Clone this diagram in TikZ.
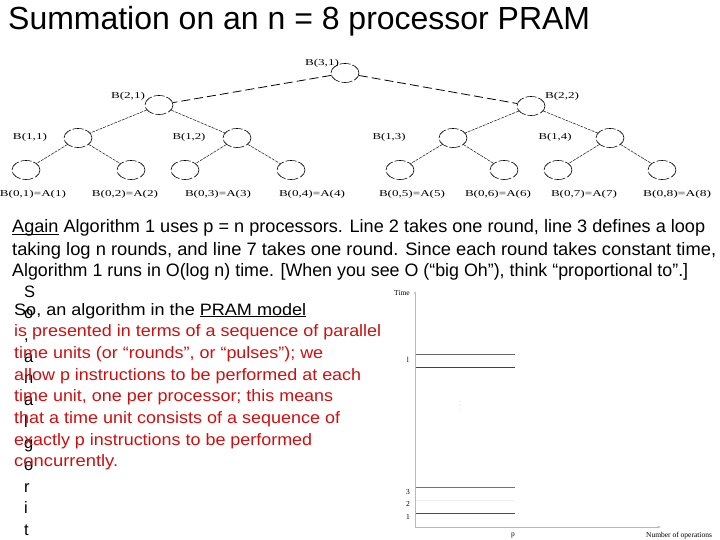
\documentclass[tikz,border=0pt]{standalone}
\usepackage{graphicx}
\usepackage{fontspec}
\setmainfont{Liberation Serif}
\newfontfamily\arial{Liberation Sans}
\usetikzlibrary{shapes.geometric,arrows.meta}
\definecolor{txtred}{RGB}{204,16,16}
\newcommand{\fitw}[2]{\resizebox{#1}{\height}{#2}}
\newsavebox{\myulbox}
\newcommand{\myul}[1]{\sbox{\myulbox}{#1}\rlap{\rule[-1.7pt]{\wd\myulbox}{0.9pt}}\usebox{\myulbox}}
\begin{document}
\begin{tikzpicture}[x=1pt,y=-1pt,
  bnode/.style={ellipse, draw, minimum width=28pt, minimum height=19pt, inner sep=0pt, line width=0.6pt, dash pattern=on 11pt off 2pt},
  topedge/.style={line width=0.8pt, dash pattern=on 9pt off 4pt},
  lowedge/.style={line width=0.45pt, dash pattern=on 3pt off 1pt},
  lbl/.style={inner sep=0pt, font=\fontsize{9}{10}\selectfont},
  para/.style={anchor=base west, inner sep=0pt, font=\arial\fontsize{18}{20}\selectfont},
  lowtxt/.style={anchor=base west, inner sep=0pt, font=\arial\fontsize{16.5}{18}\selectfont},
  vlet/.style={anchor=base west, inner sep=0pt, font=\arial\fontsize{16.5}{18}\selectfont},
  plbl/.style={inner sep=0pt, font=\fontsize{7.5}{8}\selectfont},
  hline/.style={line width=0.7pt}
]
\useasboundingbox (0,0) rectangle (720,540);

% title
\node[anchor=base west, inner sep=0pt, font=\arial\fontsize{32}{38}\selectfont] (title) at (8,30) {\fitw{582pt}{Summation on an n = 8 processor PRAM}};

% tree nodes
\node[bnode] (B31) at (345,73) {};
\node[bnode] (B21) at (159,105) {};
\node[bnode] (B22) at (531,106) {};
\node[bnode] (B11) at (78,138) {};
\node[bnode] (B12) at (237,138) {};
\node[bnode] (B13) at (453,138) {};
\node[bnode] (B14) at (610,138) {};
\node[bnode] (L1) at (26,170) {};
\node[bnode] (L2) at (131,170) {};
\node[bnode] (L3) at (185,170) {};
\node[bnode] (L4) at (291,170) {};
\node[bnode] (L5) at (400,170) {};
\node[bnode] (L6) at (504,170) {};
\node[bnode] (L7) at (558,170) {};
\node[bnode] (L8) at (662,170) {};

% tree edges
\draw[topedge] (B31) -- (B21);
\draw[topedge] (B31) -- (B22);
\draw[lowedge] (B21) -- (B11);
\draw[lowedge] (B21) -- (B12);
\draw[lowedge] (B22) -- (B13);
\draw[lowedge] (B22) -- (B14);
\draw[lowedge] (B11) -- (L1);
\draw[lowedge] (B11) -- (L2);
\draw[lowedge] (B12) -- (L3);
\draw[lowedge] (B12) -- (L4);
\draw[lowedge] (B13) -- (L5);
\draw[lowedge] (B13) -- (L6);
\draw[lowedge] (B14) -- (L7);
\draw[lowedge] (B14) -- (L8);

% tree labels
\node[lbl] (t31) at (322,63) {\fitw{34pt}{B(3,1)}};
\node[lbl] (t21) at (128,96) {\fitw{34pt}{B(2,1)}};
\node[lbl] (t22) at (562,96) {\fitw{34pt}{B(2,2)}};
\node[lbl] (t11) at (30,137) {\fitw{34pt}{B(1,1)}};
\node[lbl] (t12) at (189,137) {\fitw{33pt}{B(1,2)}};
\node[lbl] (t13) at (389,137) {\fitw{33pt}{B(1,3)}};
\node[lbl] (t14) at (555,137) {\fitw{33pt}{B(1,4)}};
\node[lbl] (a1) at (33,194) {\fitw{66pt}{B(0,1)=A(1)}};
\node[lbl] (a2) at (125,194) {\fitw{66pt}{B(0,2)=A(2)}};
\node[lbl] (a3) at (218,194) {\fitw{66pt}{B(0,3)=A(3)}};
\node[lbl] (a4) at (312,194) {\fitw{66pt}{B(0,4)=A(4)}};
\node[lbl] (a5) at (412,194) {\fitw{66pt}{B(0,5)=A(5)}};
\node[lbl] (a6) at (498,194) {\fitw{66pt}{B(0,6)=A(6)}};
\node[lbl] (a7) at (584,194) {\fitw{66pt}{B(0,7)=A(7)}};
\node[lbl] (a8) at (677,194) {\fitw{68pt}{B(0,8)=A(8)}};

% paragraph
\node[para] (p1) at (12,233) {\fitw{693pt}{\myul{Again} Algorithm 1 uses p = n processors. Line 2 takes one round, line 3 defines a loop}};
\node[para] (p2) at (12,255) {\fitw{704pt}{taking log n rounds, and line 7 takes one round. Since each round takes constant time,}};
\node[para] (p3) at (12,276.5) {\fitw{676pt}{Algorithm 1 runs in O(log n) time. [When you see O (“big Oh”), think “proportional to”.]}};

% vertical letters
\foreach \ch [count=\k from 0] in {S,o,{,},a,n,a,l,g,o,r,i,t}{
  \node[vlet] (v\k) at (24,297+21.67*\k) {\ch};
}

% lower text
\node[lowtxt] (q0) at (14,315) {\fitw{292pt}{So, an algorithm in the \myul{PRAM model}}};
\node[lowtxt, text=txtred] (q1) at (14,336.7) {\fitw{367pt}{is presented in terms of a sequence of parallel}};
\node[lowtxt, text=txtred] (q2) at (14,358.3) {\fitw{309pt}{time units (or “rounds”, or “pulses”); we}};
\node[lowtxt, text=txtred] (q3) at (14,380) {\fitw{347pt}{allow p instructions to be performed at each}};
\node[lowtxt, text=txtred] (q4) at (14,401.7) {\fitw{319pt}{time unit, one per processor; this means}};
\node[lowtxt, text=txtred] (q5) at (14,423.3) {\fitw{326pt}{that a time unit consists of a sequence of}};
\node[lowtxt, text=txtred] (q6) at (14,445) {\fitw{298pt}{exactly p instructions to be performed}};
\node[lowtxt, text=txtred] (q7) at (14,466.7) {\fitw{104pt}{concurrently.}};

% plot
\coordinate (O) at (415,527);
\coordinate (ytop) at (415,291);
\coordinate (xend) at (661,527);
\draw[gray!55, line width=0.6pt, -{Stealth[length=3pt,width=2pt]}] (O) -- (ytop);
\draw[gray!55, line width=0.6pt, -{Stealth[length=4pt,width=2.5pt]}] (O) -- (xend);
\node[plbl, anchor=east] (tlab) at (410,293) {Time};
\node[plbl] (nlab) at (679,535.5) {Number of operations};
\node[plbl] (plab) at (513,536) {p};
\coordinate (h1a) at (416,354); \coordinate (h1b) at (515,354);
\coordinate (h2a) at (416,367); \coordinate (h2b) at (515,367);
\coordinate (h3a) at (416,487); \coordinate (h3b) at (515,487);
\coordinate (h4a) at (416,500); \coordinate (h4b) at (515,500);
\coordinate (h5a) at (416,513); \coordinate (h5b) at (515,513);
\draw[hline, black!60] (h1a) -- (h1b);
\draw[hline, black!75] (h2a) -- (h2b);
\draw[hline, black!55] (h3a) -- (h3b);
\draw[hline, black!6] (h4a) -- (h4b);
\draw[hline, black!70] (h5a) -- (h5b);
\node[plbl] (yl) at (408,359.5) {l};
\node[plbl] (y3) at (408,492) {3};
\node[plbl] (y2) at (408,504) {2};
\node[plbl] (y1) at (408,517) {1};
\node[plbl, text=black!25] (dots) at (460,403) {$\vdots$};
\end{tikzpicture}
\end{document}
